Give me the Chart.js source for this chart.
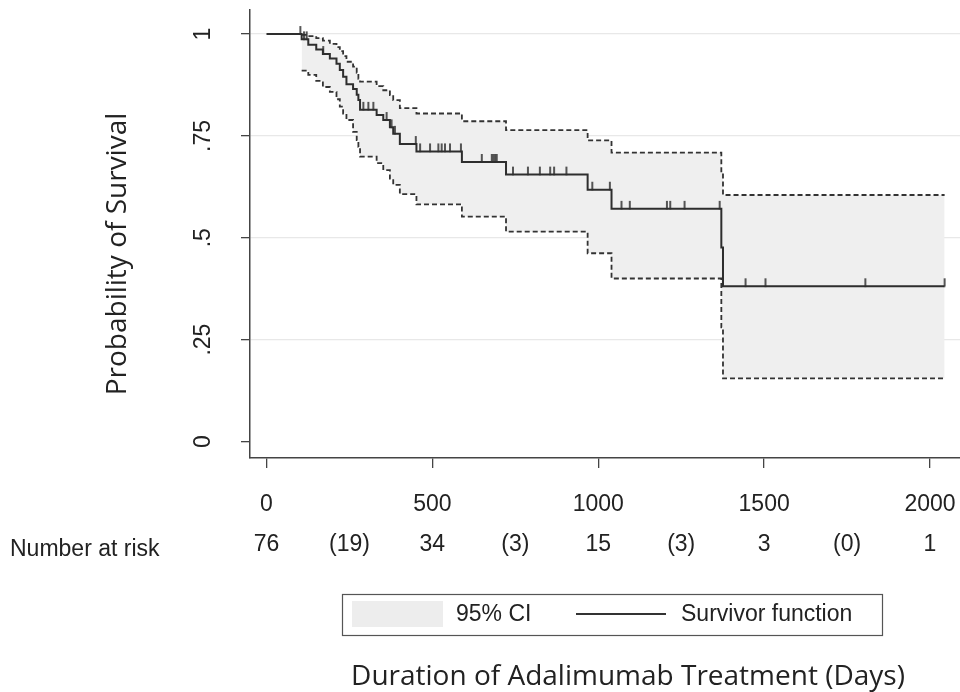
<!DOCTYPE html>
<html><head><meta charset="utf-8">
<script src="https://cdn.jsdelivr.net/npm/chart.js@4"></script>
<style>html,body{margin:0;padding:0;background:#fff}canvas{display:block}</style>
</head><body>
<canvas id="c" width="960" height="692"></canvas>
<script>
// ---- data ----
const eventTimes = [0,106,126,150,170,191,211,221,231,241,261,272,277,282,332,352,372,382,402,452,589,722,968,1040,1371,1376,2044];
const survival   = [1,0.987,0.974,0.962,0.951,0.940,0.927,0.912,0.895,0.877,0.865,0.851,0.838,0.814,0.801,0.789,0.771,0.755,0.730,0.712,0.686,0.655,0.618,0.571,0.476,0.381,0.381];
const ciTimes = [106,126,150,170,191,211,221,231,241,261,272,277,282,332,352,372,382,402,452,589,722,968,1040,1371,1376,2044];
const ciUpper = [0.998,0.995,0.990,0.984,0.976,0.968,0.958,0.946,0.932,0.920,0.905,0.890,0.883,0.872,0.862,0.850,0.838,0.818,0.805,0.786,0.764,0.739,0.709,0.660,0.605,0.605];
const ciLower = [0.910,0.900,0.885,0.870,0.858,0.840,0.822,0.805,0.789,0.760,0.740,0.723,0.699,0.683,0.666,0.645,0.630,0.607,0.582,0.552,0.515,0.462,0.400,0.280,0.155,0.155];
const censorTimes = [102,113,121,171,292,307,322,362,377,387,450,463,493,518,528,538,553,586,649,679,684,689,694,743,788,824,855,867,904,982,1035,1070,1095,1207,1217,1260,1366,1444,1504,1805,2044];
const xTicks = [0,500,1000,1500,2000];
const yTicks = [0,0.25,0.5,0.75,1];
const yTickLabels = ['0','.25','.5','.75','1'];
const riskTimes = [0,250,500,750,1000,1250,1500,1750,2000];
const riskLabels = ['76','(19)','34','(3)','15','(3)','3','(0)','1'];
const yTitle = 'Probability of Survival';
const xTitle = 'Duration of Adalimumab Treatment (Days)';
const riskTitle = 'Number at risk';
const legendLabels = ['95% CI','Survivor function'];

// ---- helpers ----
function survAt(t){ let s = 1; for (let i=0;i<eventTimes.length;i++){ if (eventTimes[i] <= t) s = survival[i]; } return s; }
const pts = (xs, ys) => xs.map((x,i)=>({x, y: ys[i]}));

const tickImg = document.createElement('canvas');
tickImg.width = 4; tickImg.height = 18;
(function(){ const g = tickImg.getContext('2d'); g.fillStyle = '#2e2e2e'; g.fillRect(1.2, 1, 1.6, 8.5); })();

const SANS = '"Liberation Sans", Arial, Helvetica, sans-serif';
const TITLE = '"Open Sans", "Liberation Sans", sans-serif';
Chart.defaults.font.family = SANS;

const extras = {
  id: 'extras',
  afterDraw(chart){
    const ctx = chart.ctx, xs = chart.scales.x, ys = chart.scales.y;
    ctx.save();
    ctx.fillStyle = '#222';
    ctx.textBaseline = 'middle';
    // y tick labels (rotated, Stata style)
    ctx.font = '23px ' + SANS;
    ctx.textAlign = 'center';
    yTicks.forEach((v,i)=>{
      ctx.save(); ctx.translate(204, ys.getPixelForValue(v)); ctx.rotate(-Math.PI/2);
      ctx.fillText(yTickLabels[i], 0, 0); ctx.restore();
    });
    // y title
    ctx.save(); ctx.font = '28px ' + TITLE; ctx.translate(118, 254); ctx.rotate(-Math.PI/2);
    ctx.fillText(yTitle, 0, 0); ctx.restore();
    // number at risk row
    ctx.font = '23px ' + SANS;
    riskTimes.forEach((t,i)=> ctx.fillText(riskLabels[i], xs.getPixelForValue(t), 545));
    ctx.textAlign = 'left';
    ctx.fillText(riskTitle, 10, 550);
    // legend
    ctx.strokeStyle = '#555'; ctx.lineWidth = 1.2;
    ctx.strokeRect(342.5, 594.5, 540, 41);
    ctx.fillStyle = '#ededed'; ctx.fillRect(352, 601, 91, 26);
    ctx.fillStyle = '#222';
    ctx.fillText(legendLabels[0], 456, 615);
    ctx.strokeStyle = '#333'; ctx.lineWidth = 1.8;
    ctx.beginPath(); ctx.moveTo(576, 614); ctx.lineTo(666, 614); ctx.stroke();
    ctx.fillText(legendLabels[1], 681, 615);
    // x title
    ctx.textAlign = 'center';
    ctx.font = '28px ' + TITLE;
    ctx.fillText(xTitle, 628, 677);
    ctx.restore();
  }
};

new Chart(document.getElementById('c'), {
  type: 'line',
  data: {
    datasets: [
      { label: 'censored', type: 'scatter', data: censorTimes.map(t=>({x:t, y: survAt(t)})),
        pointStyle: tickImg, pointRadius: 4, showLine: false, order: 0 },
      { label: 'Survivor function', data: pts(eventTimes, survival), stepped: true,
        borderColor: '#2e2e2e', borderWidth: 2, pointRadius: 0, fill: false, order: 1 },
      { label: 'upper', data: pts(ciTimes, ciUpper), stepped: true, borderColor: '#333',
        borderWidth: 1.8, borderDash: [5,3], pointRadius: 0, fill: '+1', backgroundColor: '#efefef', order: 2 },
      { label: 'lower', data: pts(ciTimes, ciLower), stepped: true, borderColor: '#333',
        borderWidth: 1.8, borderDash: [5,3], pointRadius: 0, fill: false, order: 3 }
    ]
  },
  options: {
    responsive: false, animation: false, events: [],
    layout: { autoPadding: false, padding: { top: 10, left: 0, right: 0, bottom: 0 } },
    plugins: { legend: { display: false }, tooltip: { enabled: false }, filler: { drawTime: 'beforeDatasetsDraw' } },
    scales: {
      x: { type: 'linear', min: -49.7, max: 2090.4,
        afterFit: s => { s.height = 234; s.paddingLeft = 0; s.paddingRight = 0; },
        afterBuildTicks: s => { s.ticks = xTicks.map(v=>({value:v})); },
        grid: { drawOnChartArea: false, drawTicks: true, tickLength: 10, tickColor: '#444', lineWidth: 1.3 },
        border: { display: true, color: '#444', width: 1.5 },
        ticks: { font: { size: 23 }, color: '#222', padding: 23, maxRotation: 0, autoSkip: false,
                 callback: v => String(v) }
      },
      y: { type: 'linear', min: -0.0405, max: 1.059,
        afterFit: s => { s.width = 250; s.paddingTop = 0; s.paddingBottom = 0; },
        afterBuildTicks: s => { s.ticks = yTicks.map(v=>({value:v})); },
        grid: { color: c => (c.tick && c.tick.value === 0) ? 'rgba(0,0,0,0)' : '#e8e8e8',
                tickColor: '#444', tickLength: 9, lineWidth: 1.3 },
        border: { display: true, color: '#444', width: 1.5 },
        ticks: { display: false }
      }
    }
  },
  plugins: [extras]
});
</script>
</body></html>
